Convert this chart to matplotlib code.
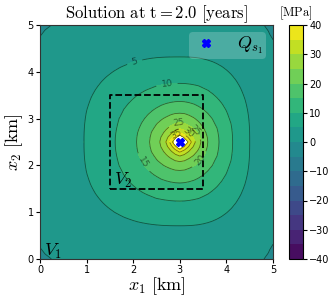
import numpy as np
import matplotlib
matplotlib.use("Agg")
import matplotlib.pyplot as plt

plt.rcParams['mathtext.fontset'] = 'cm'

# ---- data ----
source_x, source_y = 3.0, 2.5
level_values = [-5, 0, 5, 10, 15, 20, 25, 30, 35, 40, 60]
r_left  = [4.5, 3.37, 2.06, 1.39, 0.93, 0.66, 0.43, 0.30, 0.22, 0.16, 0.05]
r_right = [3.5, 2.20, 1.50, 1.14, 0.85, 0.60, 0.46, 0.33, 0.25, 0.18, 0.05]
r_down  = [4.0, 2.92, 1.79, 1.27, 0.88, 0.61, 0.42, 0.30, 0.22, 0.15, 0.05]
r_up    = [4.0, 2.92, 1.82, 1.26, 0.87, 0.62, 0.42, 0.28, 0.20, 0.14, 0.05]
shape_p = [4.0, 4.0, 2.6, 2.2, 2.0, 1.9, 1.7, 1.5, 1.4, 1.3, 1.3]
cbar_ticks = [-40, -30, -20, -10, 0, 10, 20, 30, 40]
fill_levels = np.arange(-40, 45, 5)
zero_level = [0]
label_levels = [5, 10, 15, 20, 25, 30, 35, 40]
title = r"$\mathrm{Solution\ at\ t{=}2.0\ [years]}$"

# ---- field from level-contour shapes ----
g = np.linspace(0, 5, 51)
X, Y = np.meshgrid(g, g)
dx = X - source_x
dy = Y - source_y
S = []
for k in range(len(level_values)):
    rx = np.where(dx < 0, r_left[k], r_right[k])
    ry = np.where(dy < 0, r_down[k], r_up[k])
    p = shape_p[k]
    S.append(((np.abs(dx) / rx) ** p + (np.abs(dy) / ry) ** p) ** (1.0 / p))
S = np.maximum.accumulate(np.array(S), axis=0)
L = np.array(level_values, dtype=float)
Z = np.full(X.shape, L[0])
for k in range(len(L) - 1):
    m = (S[k] <= 1) & (S[k + 1] > 1)
    t = (1 - S[k][m]) / (S[k + 1][m] - S[k][m])
    Z[m] = L[k] + (L[k + 1] - L[k]) * t
Z[S[-1] <= 1] = L[-1]

# ---- plot ----
fig = plt.figure(figsize=(3.32, 3.02), dpi=100)
ax = fig.add_axes([40/332, 43/302, 233/332, 234/302])
cax = fig.add_axes([289/332, 43/302, 14/332, 234/302])

cf = ax.contourf(X, Y, Z, levels=fill_levels, cmap='viridis')
ax.contour(X, Y, Z, levels=zero_level, colors='k', linewidths=0.6, alpha=0.5)
cs = ax.contour(X, Y, Z, levels=label_levels, colors='k', linewidths=0.6, alpha=0.5)
ax.clabel(cs, fontsize=6.5, inline=True,
          manual=[(2.03, 4.21), (2.72, 3.76), (2.2, 2.05), (3.38, 2.16),
                  (3.34, 2.76), (2.98, 2.85), (3.17, 2.67), (2.91, 2.69)])

ax.plot([1.5, 3.5, 3.5, 1.5, 1.5], [1.5, 1.5, 3.5, 3.5, 1.5], 'k--', lw=1.3)
ax.text(1.58, 1.58, r"$V_2$", fontsize=13)
ax.text(0.08, 0.07, r"$V_1$", fontsize=13)
ax.plot([source_x], [source_y], 'X', color='blue', markersize=6, ls='none',
        label=r"$Q_{s_1}$")
leg = ax.legend(loc='upper right', fontsize=13, framealpha=0.2,
                edgecolor='none', borderpad=0.15, handlelength=1.5,
                handletextpad=1.0, borderaxespad=0.4)

ax.set_xlim(0, 5)
ax.set_ylim(0, 5)
ax.set_xticks(range(6))
ax.set_yticks(range(6))
ax.tick_params(labelsize=7, length=3, pad=1.5)
ax.set_xlabel(r"$x_1\ \mathrm{[km]}$", fontsize=13, labelpad=0)
ax.set_ylabel(r"$x_2\ \mathrm{[km]}$", fontsize=13, labelpad=2)
ax.set_title(title, fontsize=12, pad=3)
for s in ax.spines.values():
    s.set_color('#333333')

cb = fig.colorbar(cf, cax=cax, ticks=cbar_ticks)
cb.ax.tick_params(labelsize=7, length=3, pad=1.5)
cb.outline.set_linewidth(0.8)
cax.set_title(r"$\mathrm{[MPa]}$", fontsize=9, pad=6)

fig.savefig("out.png", dpi=100)
